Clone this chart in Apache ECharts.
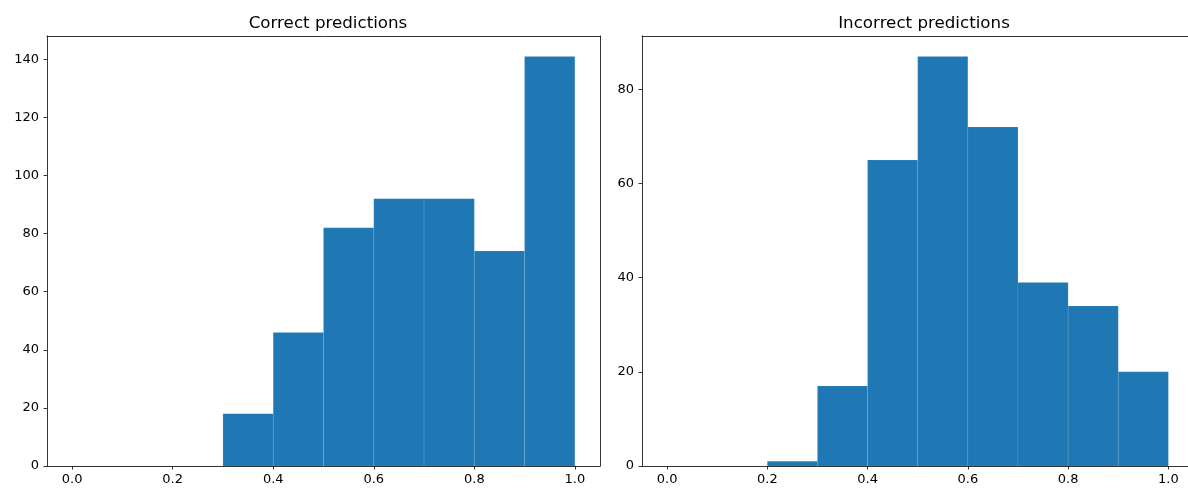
<!DOCTYPE html>
<html>
<head>
<meta charset="utf-8">
<script src="https://cdn.jsdelivr.net/npm/echarts@6/dist/echarts.min.js"></script>
<style>html,body{margin:0;padding:0;background:#fff}#c{width:1188px;height:488px}</style>
</head>
<body>
<div id="c"></div>
<script>
const binEdges = [0.0, 0.1, 0.2, 0.3, 0.4, 0.5, 0.6, 0.7, 0.8, 0.9, 1.0];
const correctCounts = [0, 0, 0, 18, 46, 82, 92, 92, 74, 141];
const incorrectCounts = [0, 0, 1, 17, 65, 87, 72, 39, 34, 20];
const xTicks = [0.0, 0.2, 0.4, 0.6, 0.8, 1.0];
const yTicksCorrect = [0, 20, 40, 60, 80, 100, 120, 140];
const yTicksIncorrect = [0, 20, 40, 60, 80];
const titles = ['Correct predictions', 'Incorrect predictions'];

function toBins(counts) {
  return counts.map((c, i) => [binEdges[i], binEdges[i + 1], c]);
}

const font = 'DejaVu Sans';
const spine = {color: '#000', width: 0.8};
const chart = echarts.init(document.getElementById('c'), null, {renderer: 'canvas'});

// left panel: x from -0.05 to 1.05 over 553 px; right panel is clipped by the canvas edge
const xMinL = -0.05, xMaxL = 1.05;
const xMinR = -0.05, xMaxR = -0.05 + 546 / 501.3;

function xAxis(gi, mn, mx) {
  return {
    type: 'value', gridIndex: gi, min: mn, max: mx, position: 'bottom',
    axisLine: {show: true, onZero: false, lineStyle: spine},
    splitLine: {show: false},
    axisTick: {show: true, length: 3.5, inside: false, lineStyle: spine, customValues: xTicks},
    axisLabel: {customValues: xTicks, formatter: v => v.toFixed(1), color: '#000', fontFamily: font, fontSize: 13, margin: 7}
  };
}
function xTop(gi, mn, mx) {
  return {
    type: 'value', gridIndex: gi, min: mn, max: mx, position: 'top',
    axisLine: {show: true, onZero: false, lineStyle: spine},
    splitLine: {show: false}, axisTick: {show: false}, axisLabel: {show: false}
  };
}
function yAxis(gi, ymax, ticks) {
  return {
    type: 'value', gridIndex: gi, min: 0, max: ymax, position: 'left',
    axisLine: {show: true, onZero: false, lineStyle: spine},
    splitLine: {show: false},
    axisTick: {show: true, length: 3.5, inside: false, lineStyle: spine, customValues: ticks},
    axisLabel: {customValues: ticks, color: '#000', fontFamily: font, fontSize: 13, margin: 8}
  };
}
function yRight(gi, ymax) {
  return {
    type: 'value', gridIndex: gi, min: 0, max: ymax, position: 'right',
    axisLine: {show: true, onZero: false, lineStyle: spine},
    splitLine: {show: false}, axisTick: {show: false}, axisLabel: {show: false}
  };
}
function renderBin(params, api) {
  const p0 = api.coord([api.value(0), api.value(2)]);
  const p1 = api.coord([api.value(1), 0]);
  return {
    type: 'rect',
    shape: {x: p0[0], y: p0[1], width: p1[0] - p0[0], height: p1[1] - p0[1]},
    style: {fill: '#1f77b4', stroke: 'rgba(200,220,240,0.25)', lineWidth: 0.5}
  };
}

const maxC = Math.max(...correctCounts) * 1.05;
const maxI = Math.max(...incorrectCounts) * 1.05;
const titleStyle = {fontFamily: font, fontSize: 16.7, fontWeight: 'normal', color: '#000'};

chart.setOption({
  animation: false,
  backgroundColor: '#fff',
  title: [
    {text: titles[0], left: 323, top: 10, textAlign: 'center', textStyle: titleStyle},
    {text: titles[1], left: 919, top: 10, textAlign: 'center', textStyle: titleStyle}
  ],
  grid: [
    {left: 47, top: 36, width: 553, height: 430, show: false},
    {left: 642, top: 36, width: 546, height: 430, show: false}
  ],
  xAxis: [xAxis(0, xMinL, xMaxL), xAxis(1, xMinR, xMaxR), xTop(0, xMinL, xMaxL), xTop(1, xMinR, xMaxR)],
  yAxis: [yAxis(0, maxC, yTicksCorrect), yAxis(1, maxI, yTicksIncorrect), yRight(0, maxC)],
  series: [
    {type: 'custom', xAxisIndex: 0, yAxisIndex: 0, data: toBins(correctCounts), encode: {x: [0, 1], y: 2}, renderItem: renderBin, clip: true, z: 1},
    {type: 'custom', xAxisIndex: 1, yAxisIndex: 1, data: toBins(incorrectCounts), encode: {x: [0, 1], y: 2}, renderItem: renderBin, clip: true, z: 1}
  ]
});
</script>
</body>
</html>
